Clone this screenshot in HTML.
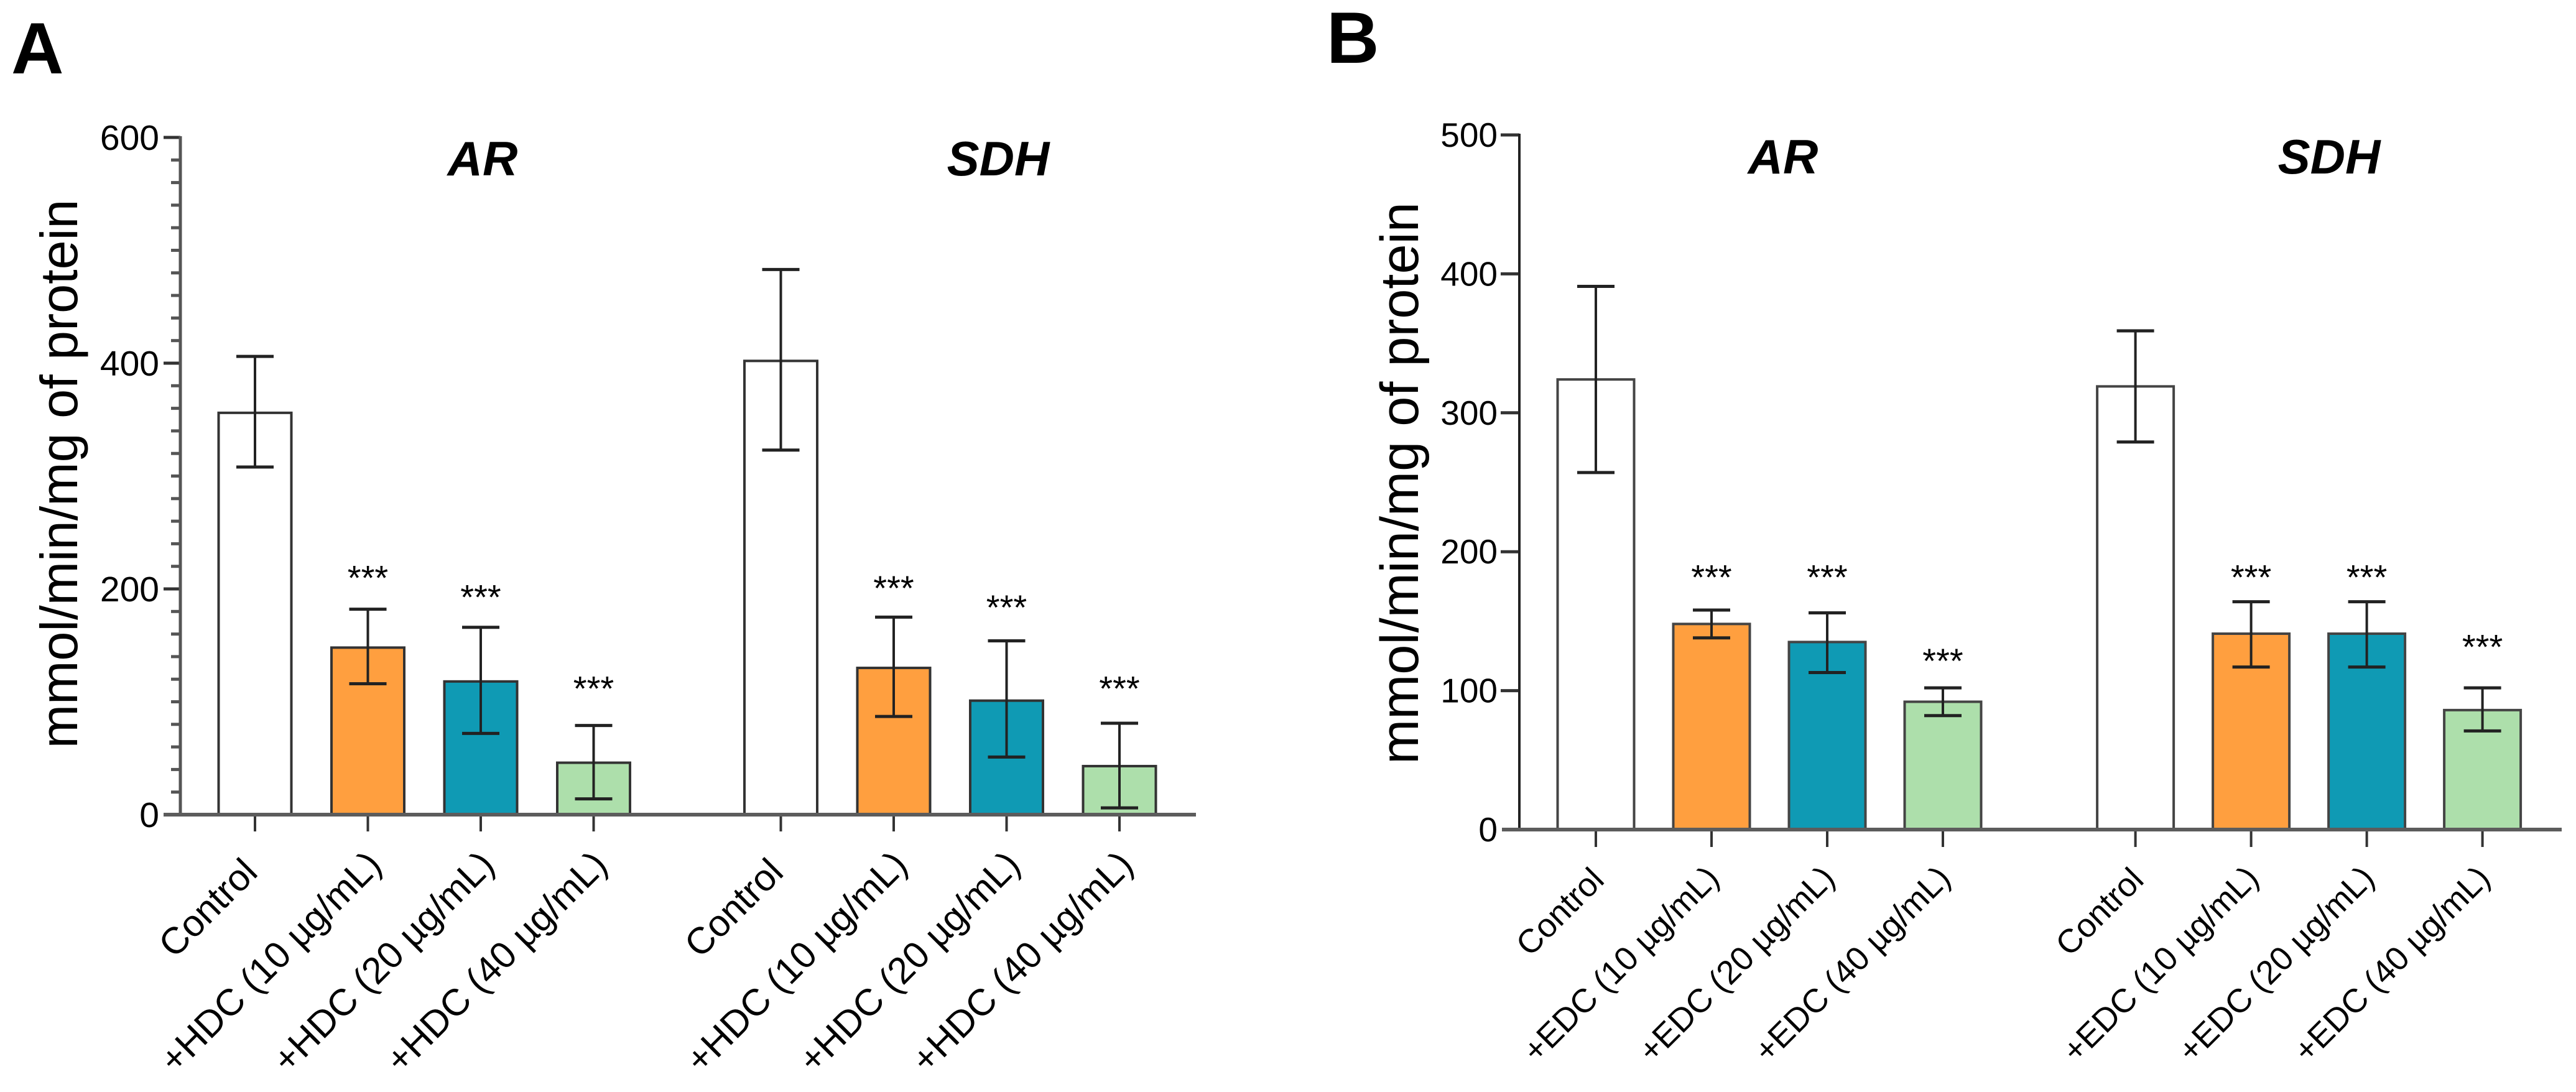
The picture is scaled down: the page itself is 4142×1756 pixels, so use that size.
<!DOCTYPE html>
<html lang="en">
<head>
<meta charset="utf-8">
<title>AR and SDH activity charts</title>
<style>
html,body{margin:0;padding:0;background:#fff;}
svg{display:block;font-family:"Liberation Sans",Arial,sans-serif;}
</style>
</head>
<body>
<svg id="figure" width="4142" height="1756" viewBox="0 0 4142 1756" xmlns="http://www.w3.org/2000/svg">
<rect width="4142" height="1756" fill="#fff"/>
<text x="18" y="118" font-size="117" font-weight="700" fill="#000">A</text>
<text x="2133" y="101" font-size="117" font-weight="700" fill="#000">B</text>
<text x="776" y="282" font-size="78" font-weight="700" font-style="italic" text-anchor="middle" fill="#000">AR</text>
<text x="1605" y="282" font-size="78" font-weight="700" font-style="italic" text-anchor="middle" fill="#000">SDH</text>
<text x="2867" y="279" font-size="78" font-weight="700" font-style="italic" text-anchor="middle" fill="#000">AR</text>
<text x="3745" y="279" font-size="78" font-weight="700" font-style="italic" text-anchor="middle" fill="#000">SDH</text>
<text transform="translate(124 762) rotate(-90)" font-size="84.5" text-anchor="middle" fill="#000">mmol/min/mg of protein</text>
<text transform="translate(2280 777) rotate(-90)" font-size="86.5" text-anchor="middle" fill="#000">mmol/min/mg of protein</text>
</svg>
<script>
const panelACategories = ["Control", "+HDC (10 µg/mL)", "+HDC (20 µg/mL)", "+HDC (40 µg/mL)", "Control", "+HDC (10 µg/mL)", "+HDC (20 µg/mL)", "+HDC (40 µg/mL)"];
const panelAMeans = [356, 148, 118, 46, 402, 130, 101, 43];
const panelAUpper = [406, 182, 166, 79, 483, 175, 154, 81];
const panelALower = [308, 116, 72, 14, 323, 87, 51, 6];
const panelASignificance = [null, 214, 197, 116, null, 205, 188, 116];
const panelATicks = [0, 200, 400, 600];
const panelAMinorStep = [20];

const panelBCategories = ["Control", "+EDC (10 µg/mL)", "+EDC (20 µg/mL)", "+EDC (40 µg/mL)", "Control", "+EDC (10 µg/mL)", "+EDC (20 µg/mL)", "+EDC (40 µg/mL)"];
const panelBMeans = [324, 148, 135, 92, 319, 141, 141, 86];
const panelBUpper = [391, 158, 156, 102, 359, 164, 164, 102];
const panelBLower = [257, 138, 113, 82, 279, 117, 117, 71];
const panelBSignificance = [null, 185, 185, 125, null, 185, 185, 135];
const panelBTicks = [0, 100, 200, 300, 400, 500];
const panelBMinorStep = [];

const barColors = ["#ffffff", "#ff9f3f", "#0f9ab4", "#addfab"];

const svg = document.getElementById('figure');
const NS = 'http://www.w3.org/2000/svg';

function make(tag, attrs, text) {
  const el = document.createElementNS(NS, tag);
  for (const k in attrs) el.setAttribute(k, attrs[k]);
  if (text !== undefined) el.textContent = text;
  svg.appendChild(el);
  return el;
}

function drawPanel(p) {
  const y = v => p.zeroY - (v / p.yMax) * p.plotH;
  const x = i => p.firstX + i * p.step + (i >= 4 ? p.groupGap : 0);
  const pre = p.prefix;

  p.means.forEach((m, i) => {
    const bar = make('rect', {x: x(i) - p.barW / 2, y: y(m), width: p.barW, height: p.zeroY - y(m), fill: barColors[i % 4], stroke: p.barStroke, 'stroke-width': p.barSW});
    
    
  });

  p.means.forEach((m, i) => {
    const stem = make('line', {x1: x(i), x2: x(i), y1: y(p.upper[i]), y2: y(p.lower[i]), stroke: '#222', 'stroke-width': 4});
    
    
    const capTop = make('line', {x1: x(i) - 30, x2: x(i) + 30, y1: y(p.upper[i]), y2: y(p.upper[i]), stroke: '#222', 'stroke-width': 5});
    
    
    const capBottom = make('line', {x1: x(i) - 30, x2: x(i) + 30, y1: y(p.lower[i]), y2: y(p.lower[i]), stroke: '#222', 'stroke-width': 5});
    
    
    if (p.stars[i] !== null) {
      const star = make('text', {x: x(i), y: y(p.stars[i]) + 27, 'font-size': 56, 'text-anchor': 'middle', fill: '#000'}, '***');
      
      
    }
    const tick = make('line', {x1: x(i), x2: x(i), y1: p.zeroY, y2: p.zeroY + p.xTickLen, stroke: '#333', 'stroke-width': 4});
    
    
    const off = i % 4 === 0 ? p.controlOffset : p.labelOffset;
    const tx = x(i) + off[0];
    const ty = p.zeroY + off[1];
    const label = make('text', {transform: 'translate(' + tx + ' ' + ty + ') rotate(-45)', 'font-size': p.xFont, 'text-anchor': 'end', fill: '#000'}, p.categories[i]);
    
    
  });

  if (p.minorStep.length) {
    for (let v = 0; v < p.yMax; v += p.minorStep[0]) {
      if (p.ticks.indexOf(v) >= 0) continue;
      const minor = make('line', {x1: p.axisX - 15, x2: p.axisX, y1: y(v), y2: y(v), stroke: '#555', 'stroke-width': 5});
      
      
    }
  }

  p.ticks.forEach(t => {
    if (t !== 0) {
      const major = make('line', {x1: p.axisX - p.yTickLen, x2: p.axisX, y1: y(t), y2: y(t), stroke: '#333', 'stroke-width': 5});
      
      
    }
    const lab = make('text', {x: p.tickLabelX, y: y(t) + p.tickBaseline, 'font-size': p.tickFont, 'text-anchor': 'end', fill: '#000'}, String(t));
    
    
  });

  const yAxis = make('line', {x1: p.axisX, x2: p.axisX, y1: y(p.yMax) - 2, y2: p.zeroY, stroke: p.yAxisStroke, 'stroke-width': p.yAxisSW});
  
  
  const xAxis = make('line', {x1: p.xAxisStart, x2: p.xAxisEnd, y1: p.zeroY, y2: p.zeroY, stroke: '#5c5c5c', 'stroke-width': 6});
  
  
}

drawPanel({
  prefix: 'panel-a', categories: panelACategories, means: panelAMeans, upper: panelAUpper, lower: panelALower,
  stars: panelASignificance, ticks: panelATicks, minorStep: panelAMinorStep,
  yMax: 600, zeroY: 1310, plotH: 1089, axisX: 290, firstX: 410, step: 181.5, groupGap: 119.5, barW: 117,
  barStroke: '#333', barSW: 4, xTickLen: 27, yTickLen: 27, tickFont: 57, tickLabelX: 256, tickBaseline: 20,
  xFont: 60, controlOffset: [7, 96], labelOffset: [25, 84], xAxisStart: 263, xAxisEnd: 1923,
  yAxisStroke: '#555', yAxisSW: 5
});

drawPanel({
  prefix: 'panel-b', categories: panelBCategories, means: panelBMeans, upper: panelBUpper, lower: panelBLower,
  stars: panelBSignificance, ticks: panelBTicks, minorStep: panelBMinorStep,
  yMax: 500, zeroY: 1334, plotH: 1117, axisX: 2443, firstX: 2566, step: 186, groupGap: 123.6, barW: 123,
  barStroke: '#444', barSW: 4, xTickLen: 28, yTickLen: 30, tickFont: 55, tickLabelX: 2408, tickBaseline: 19,
  xFont: 53.5, controlOffset: [16, 84], labelOffset: [15, 81], xAxisStart: 2415, xAxisEnd: 4119,
  yAxisStroke: '#222', yAxisSW: 4
});
</script>
</body>
</html>
